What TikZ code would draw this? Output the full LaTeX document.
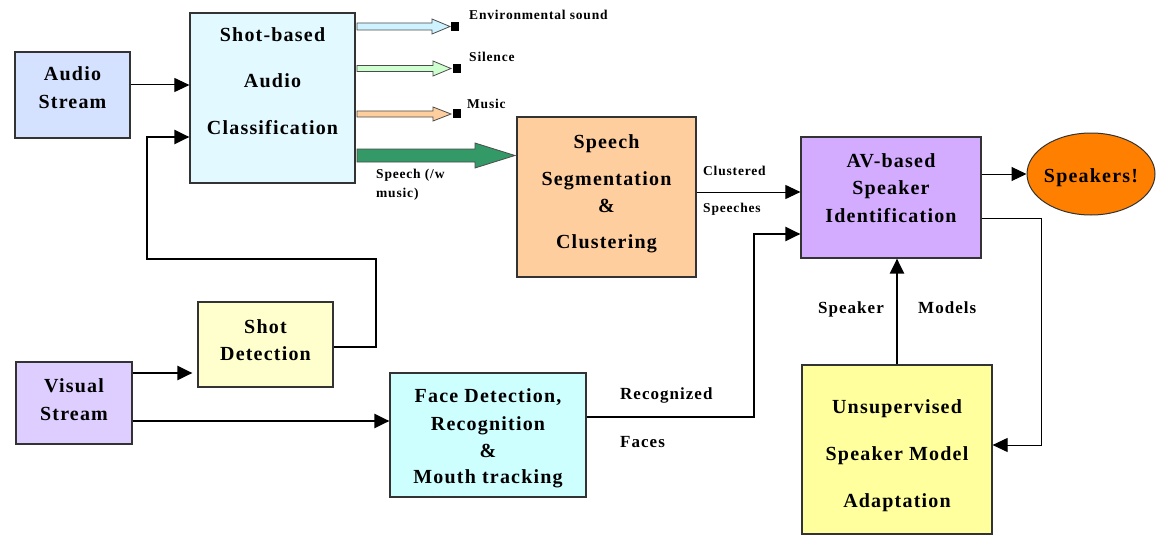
\documentclass[tikz,border=0pt]{standalone}
\usepackage{fontspec}
\setmainfont[LetterSpace=6]{Liberation Serif}
\usetikzlibrary{arrows.meta,shapes.geometric}
\definecolor{cAudio}{RGB}{212,226,255}
\definecolor{cSbac}{RGB}{226,250,255}
\definecolor{cSeg}{RGB}{255,206,158}
\definecolor{cAV}{RGB}{212,172,255}
\definecolor{cSpk}{RGB}{255,128,0}
\definecolor{cShot}{RGB}{255,255,206}
\definecolor{cVis}{RGB}{222,206,255}
\definecolor{cFace}{RGB}{206,255,255}
\definecolor{cUns}{RGB}{255,255,158}
\definecolor{cEnv}{RGB}{206,242,255}
\definecolor{cSil}{RGB}{206,255,206}
\definecolor{cMus}{RGB}{255,206,158}
\definecolor{cSph}{RGB}{51,153,102}
\begin{document}
\begin{tikzpicture}[x=1pt,y=-1pt,
  box/.style={draw=black!80,line width=1.2pt,inner sep=0pt,rectangle},
  bt/.style={font=\fontsize{20}{24}\selectfont\bfseries,anchor=base,inner sep=0pt},
  st/.style={font=\fontsize{17}{20}\selectfont\bfseries,anchor=base west,inner sep=0pt},
  tt/.style={font=\fontsize{13.5}{16}\selectfont\bfseries,anchor=base west,inner sep=0pt},
  arr/.style={-{Triangle[length=15pt,width=14pt]},line width=1pt},
  tarr/.style={-{Triangle[length=15pt,width=14pt]},line width=2.2pt},
  blk/.style={draw=black!70,line width=0.8pt}
]
\fill[white] (0,0) rectangle (1163,535);
\useasboundingbox (0,0) rectangle (1163,535);

% boxes
\node[box,fill=cAudio,minimum width=115pt,minimum height=86pt] (audio) at (72.5,95) {};
\node[box,fill=cSbac,minimum width=165pt,minimum height=170pt] (sbac) at (272.5,98) {};
\node[box,fill=cSeg,minimum width=179pt,minimum height=160pt] (seg) at (606.5,197) {};
\node[box,fill=cAV,minimum width=180pt,minimum height=121pt] (av) at (891,197.5) {};
\node[draw=black!80,line width=1pt,ellipse,fill=cSpk,minimum width=128pt,minimum height=82pt,inner sep=0pt] (spk) at (1091,174) {};
\node[box,fill=cShot,minimum width=135pt,minimum height=85pt] (shot) at (265.5,344.5) {};
\node[box,fill=cVis,minimum width=116pt,minimum height=82pt] (vis) at (74,403) {};
\node[box,fill=cFace,minimum width=196pt,minimum height=124pt] (face) at (488,435) {};
\node[box,fill=cUns,minimum width=190pt,minimum height=169pt] (uns) at (897,449.5) {};

% box texts
\node[bt] (ta1) at (72.5,81) {Audio};
\node[bt] (ta2) at (72.5,109) {Stream};
\node[bt] (tb1) at (272.5,42) {Shot-based};
\node[bt] (tb2) at (272.5,88) {Audio};
\node[bt] (tb3) at (272.5,135) {Classification};
\node[bt] (tc1) at (606.5,148) {Speech};
\node[bt] (tc2) at (606.5,185) {Segmentation};
\node[bt] (tc3) at (606.5,212) {\&};
\node[bt] (tc4) at (606.5,248) {Clustering};
\node[bt] (td1) at (891,167) {AV-based};
\node[bt] (td2) at (891,194) {Speaker};
\node[bt] (td3) at (891,222) {Identification};
\node[bt] (te1) at (1091,182) {Speakers!};
\node[bt] (tf1) at (265.5,333) {Shot};
\node[bt] (tf2) at (265.5,360) {Detection};
\node[bt] (tg1) at (74,392) {Visual};
\node[bt] (tg2) at (74,420) {Stream};
\node[bt] (th1) at (488,402) {Face Detection,};
\node[bt] (th2) at (488,430) {Recognition};
\node[bt] (th3) at (488,457) {\&};
\node[bt] (th4) at (488,483) {Mouth tracking};
\node[bt] (ti1) at (897,413) {Unsupervised};
\node[bt] (ti2) at (897,460) {Speaker Model};
\node[bt] (ti3) at (897,507) {Adaptation};

% block arrows out of classification
\filldraw[blk,fill=cEnv] (357,23) -- (432,23) -- (432,19) -- (450,26.5) -- (432,34) -- (432,30) -- (357,30) -- cycle;
\fill[black] (451,22) rectangle (459,31);
\filldraw[blk,fill=cSil] (357,65.5) -- (433,65.5) -- (433,61) -- (451,68.5) -- (433,76) -- (433,71.5) -- (357,71.5) -- cycle;
\fill[black] (453,64) rectangle (461,73);
\filldraw[blk,fill=cMus] (357,111) -- (433,111) -- (433,107) -- (451,114) -- (433,121) -- (433,117) -- (357,117) -- cycle;
\fill[black] (453,109) rectangle (461,118);
\filldraw[blk,fill=cSph] (357,149) -- (475,149) -- (475,143) -- (515,155.5) -- (475,168) -- (475,162) -- (357,162) -- cycle;

\node[tt] (l1) at (469,20) {Environmental sound};
\node[tt] (l2) at (469,62) {Silence};
\node[tt] (l3) at (467,108) {Music};
\node[tt] (l4) at (376,178) {Speech (/w};
\node[tt] (l5) at (376,197) {music)};

% connectors
\draw[arr] (audio.east |- 0,85) -- (sbac.west |- 0,85);
\draw[tarr] (shot.east |- 0,347) -| (376,259) -| (147,137) -- (sbac.west |- 0,137);
\draw[tarr,shorten >=5pt] (vis.east |- 0,373) -- (shot.west |- 0,373);
\draw[tarr] (vis.east |- 0,421) -- (face.west |- 0,421);
\draw[tarr] (face.east |- 0,417) -| (754,234) -- (av.west |- 0,234);
\draw[arr] (seg.east |- 0,192) -- (av.west |- 0,192);
\draw[arr] (av.east |- 0,174) -- (spk.west);
\draw[arr] (av.east |- 0,218) -| (1041,445) -- (uns.east |- 0,445);
\draw[tarr] (uns.north) -- (uns.north |- av.south);

\node[tt] (l6) at (703,175) {Clustered};
\node[tt] (l7) at (703,212) {Speeches};
\node[st] (l8) at (620,399) {Recognized};
\node[st] (l9) at (620,447) {Faces};
\node[st] (l10) at (818,313) {Speaker};
\node[st] (l11) at (918,313) {Models};
\end{tikzpicture}
\end{document}
